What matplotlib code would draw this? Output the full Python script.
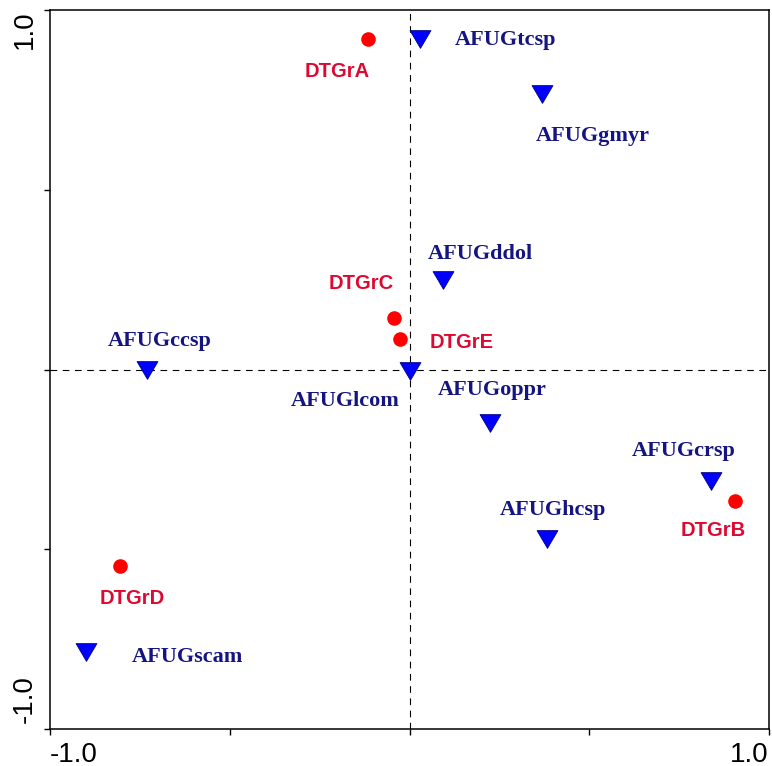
import matplotlib
matplotlib.use("Agg")
import matplotlib.pyplot as plt
from matplotlib.path import Path
from matplotlib.markers import MarkerStyle
from matplotlib.transforms import ScaledTranslation

# Sample groups (circles)
grp_names = ["DTGrA", "DTGrB", "DTGrC", "DTGrD", "DTGrE"]
grp_x = [-0.115, 0.905, -0.043, -0.805, -0.026]
grp_y = [0.919, -0.366, 0.143, -0.547, 0.085]
grp_lx = [-0.200, 0.845, -0.135, -0.770, 0.145]
grp_ly = [0.830, -0.448, 0.240, -0.638, 0.076]

# Variables (triangles)
var_names = ["AFUGtcsp", "AFUGgmyr", "AFUGddol", "AFUGccsp", "AFUGlcom",
             "AFUGoppr", "AFUGcrsp", "AFUGhcsp", "AFUGscam"]
var_x = [0.029, 0.369, 0.093, -0.730, 0.000, 0.224, 0.838, 0.382, -0.900]
var_y = [0.919, 0.766, 0.249, 0.000, -0.005, -0.149, -0.310, -0.471, -0.786]
var_lx = [0.266, 0.511, 0.197, -0.694, -0.180, 0.230, 0.764, 0.400, -0.619]
var_ly = [0.916, 0.649, 0.322, 0.080, -0.088, -0.057, -0.227, -0.392, -0.800]

tick_vals = [-1.0, -0.5, 0.0, 0.5, 1.0]
tick_text = ["-1.0", "", "", "", "1.0"]

fig = plt.figure(figsize=(7.72, 7.66), dpi=100)
ax = fig.add_axes([50 / 772, 37 / 766, 719 / 772, 719 / 766])
ax.set_xlim(-1, 1)
ax.set_ylim(-1, 1)

ax.axhline(0, color="black", lw=0.8, ls=(0, (6, 5)), zorder=1)
ax.axvline(0, color="black", lw=0.8, ls=(0, (6, 5)), zorder=1)

tri = MarkerStyle(Path([(-1, 0.85), (1, 0.85), (0, -0.85), (-1, 0.85)],
                       [Path.MOVETO, Path.LINETO, Path.LINETO, Path.CLOSEPOLY]))
ax.plot(var_x, var_y, ls="none", marker=tri, ms=15, mfc="#0000ff",
        mec="#000080", mew=0.6, zorder=3)
ax.plot(grp_x, grp_y, ls="none", marker="o", ms=10.5, mfc="#ff0000",
        mec="#ff0000", mew=0, zorder=3)

for name, lx, ly in zip(var_names, var_lx, var_ly):
    ax.text(lx, ly, name, ha="center", va="center", color="#141482",
            fontsize=16, fontweight="bold", family="Liberation Serif", zorder=4)
for name, lx, ly in zip(grp_names, grp_lx, grp_ly):
    ax.text(lx, ly, name, ha="center", va="center", color="#dc0a32",
            fontsize=14.5, fontweight="bold", family="Liberation Sans", zorder=4)

ax.set_xticks(tick_vals)
ax.set_xticklabels(tick_text)
ax.set_yticks(tick_vals)
ax.set_yticklabels(tick_text, rotation=90)
ax.tick_params(direction="out", length=4, width=1.0, labelsize=20, pad=5)
for lab in ax.get_xticklabels() + ax.get_yticklabels():
    lab.set_family("Liberation Sans")
xl = ax.get_xticklabels()
xl[0].set_ha("left")
xl[-1].set_ha("right")
yl = ax.get_yticklabels()
yl[0].set_va("bottom")
yl[0].set_transform(yl[0].get_transform()
                    + ScaledTranslation(0, 6 / 100, fig.dpi_scale_trans))
yl[-1].set_va("top")

for s in ax.spines.values():
    s.set_linewidth(1.1)

fig.savefig("out.png", dpi=100)
